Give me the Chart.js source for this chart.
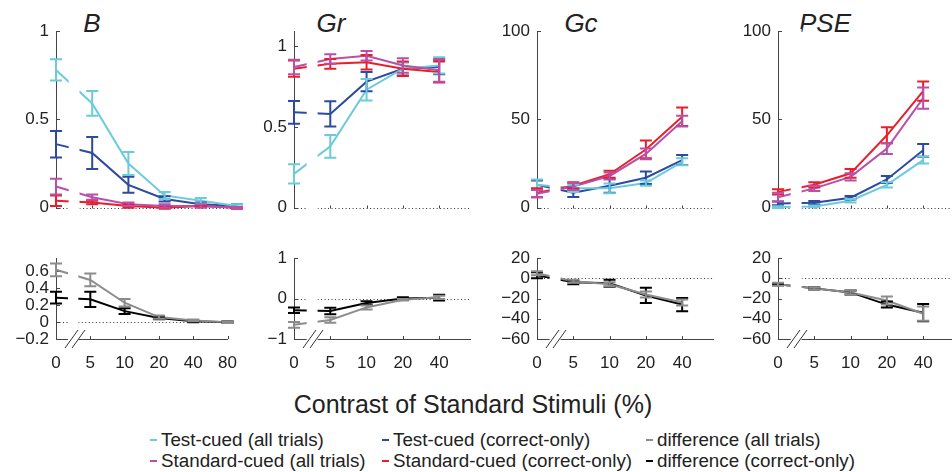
<!DOCTYPE html>
<html>
<head>
<meta charset="utf-8">
<script src="https://cdn.jsdelivr.net/npm/chart.js@4.4.1/dist/chart.umd.min.js"></script>
<style>
  html, body { margin: 0; padding: 0; background: #fff; overflow: hidden; }
  body { width: 952px; height: 472px; position: relative; font-family: "Liberation Sans", Arial, sans-serif; color: #222; }
  canvas { position: absolute; }
  .ttl { position: absolute; font-style: italic; font-size: 26px; line-height: 26px; transform: translateX(-50%); white-space: nowrap; }
  .xtitle { position: absolute; left: 473px; top: 392px; font-size: 25px; line-height: 25px; transform: translateX(-50%); white-space: nowrap; }
  .leg { position: absolute; font-size: 18.8px; line-height: 19px; white-space: nowrap; }
  .leg i { position: absolute; left: -11px; top: 9px; width: 7px; height: 2px; }
</style>
</head>
<body>
<div class="ttl" style="left:92px;top:10px">B</div>
<div class="ttl" style="left:331px;top:10px">Gr</div>
<div class="ttl" style="left:581px;top:10px">Gc</div>
<div class="ttl" style="left:825px;top:10px">PSE</div>
<div class="xtitle">Contrast of Standard Stimuli (%)</div>
<div id="legend"></div>
<script>
const contrastLabels = ['0', '5', '10', '20', '40', '80'];

// top row: B
const bTestAll = [0.78, 0.59, 0.25, 0.07, 0.04, 0.01];
const bTestAllErr = [0.06, 0.07, 0.065, 0.02, 0.015, 0.01];
const bTestCor = [0.36, 0.31, 0.13, 0.05, 0.02, 0.01];
const bTestCorErr = [0.075, 0.09, 0.045, 0.015, 0.01, 0.01];
const bStdAll = [0.12, 0.06, 0.02, 0.01, 0.01, 0.0];
const bStdAllErr = [0.045, 0.015, 0.01, 0.01, 0.01, 0.005];
const bStdCor = [0.04, 0.03, 0.01, 0.0, 0.01, 0.0];
const bStdCorErr = [0.03, 0.01, 0.01, 0.005, 0.005, 0.005];

// top row: Gr
const grTestAll = [0.21, 0.38, 0.73, 0.86, 0.88];
const grTestAllErr = [0.06, 0.07, 0.067, 0.04, 0.05];
const grTestCor = [0.59, 0.58, 0.78, 0.86, 0.87];
const grTestCorErr = [0.07, 0.078, 0.06, 0.04, 0.045];
const grStdAll = [0.87, 0.92, 0.94, 0.88, 0.85];
const grStdAllErr = [0.045, 0.03, 0.03, 0.045, 0.07];
const grStdCor = [0.86, 0.89, 0.9, 0.86, 0.84];
const grStdCorErr = [0.05, 0.03, 0.045, 0.045, 0.065];

// top row: Gc
const gcTestAll = [13, 11, 11, 14, 26];
const gcTestAllErr = [3, 2, 2.7, 1.5, 2];
const gcTestCor = [13, 8.5, 12.5, 17, 27];
const gcTestCorErr = [2.5, 2.4, 4, 3.5, 2.8];
const gcStdAll = [8, 12, 18, 30.5, 49];
const gcStdAllErr = [2, 2, 2, 3, 3];
const gcStdCor = [8.5, 12.5, 19, 33, 51.5];
const gcStdCorErr = [2.5, 2, 2, 5, 5.2];

// top row: PSE
const pseTestAll = [0.4, 0.8, 4, 13, 27];
const pseTestAllErr = [0.5, 0.5, 1, 1.5, 2];
const pseTestCor = [2.5, 2.8, 5.7, 16, 32.5];
const pseTestCorErr = [1, 1, 1, 2, 3.6];
const pseStdAll = [6, 11, 17.5, 33.5, 62];
const pseStdAllErr = [2.5, 1.5, 2, 3, 6];
const pseStdCor = [9, 13, 19.5, 41, 66];
const pseStdCorErr = [1.5, 1.5, 2.5, 4.5, 5.5];

// bottom row: differences
const bDiffAll = [0.62, 0.50, 0.23, 0.06, 0.02, 0.0];
const bDiffAllErr = [0.075, 0.075, 0.045, 0.02, 0.01, 0.01];
const bDiffCor = [0.29, 0.27, 0.13, 0.05, 0.01, 0.0];
const bDiffCorErr = [0.07, 0.09, 0.035, 0.015, 0.01, 0.01];
const grDiffAll = [-0.65, -0.53, -0.22, -0.03, 0.03];
const grDiffAllErr = [0.07, 0.07, 0.05, 0.02, 0.04];
const grDiffCor = [-0.29, -0.31, -0.11, 0.0, 0.02];
const grDiffCorErr = [0.07, 0.08, 0.04, 0.03, 0.07];
const gcDiffAll = [5, -3, -6, -16, -24];
const gcDiffAllErr = [2, 1.5, 2, 3, 3];
const gcDiffCor = [3, -4, -5, -17, -26];
const gcDiffCorErr = [3, 2, 3.5, 7.5, 6.5];
const pseDiffAll = [-6, -10, -14, -22, -35];
const pseDiffAllErr = [1.5, 1, 2, 4, 7];
const pseDiffCor = [-6, -10, -14, -26, -34];
const pseDiffCorErr = [1, 1, 2, 3, 8.5];

const colors = {
  testAll: '#6ccadb',
  testCor: '#2c4a9f',
  stdAll: '#b94fa8',
  stdCor: '#e91e2a',
  diffAll: '#8c8c8c',
  diffCor: '#000000'
};

const legendItems = [
  { label: 'Test-cued (all trials)', color: colors.testAll, x: 161, y: 430 },
  { label: 'Standard-cued (all trials)', color: colors.stdAll, x: 161, y: 451 },
  { label: 'Test-cued (correct-only)', color: colors.testCor, x: 393, y: 430 },
  { label: 'Standard-cued (correct-only)', color: colors.stdCor, x: 393, y: 451 },
  { label: 'difference (all trials)', color: colors.diffAll, x: 657, y: 430 },
  { label: 'difference (correct-only)', color: colors.diffCor, x: 657, y: 451 }
];

const STEP = 36.3;
const GAP = [0.35, 0.65];
const FONT = '"Liberation Sans", Arial, sans-serif';
Chart.defaults.font.family = FONT;

function fmt(v) {
  return v < 0 ? '\u2212' + Math.abs(v) : String(v);
}

const decoPlugin = {
  id: 'panelDeco',
  beforeDatasetsDraw(chart, args, opts) {
    const { ctx, chartArea: a, scales: { x, y } } = chart;
    const y0 = Math.round(y.getPixelForValue(0)) + 0.5;
    const g0 = x.getPixelForValue(GAP[0]);
    const g1 = x.getPixelForValue(GAP[1]);
    ctx.save();
    ctx.strokeStyle = '#333';
    ctx.lineWidth = 1;
    ctx.setLineDash([1, 2.5]);
    ctx.beginPath();
    ctx.moveTo(a.left, y0); ctx.lineTo(g0, y0);
    ctx.moveTo(g1, y0); ctx.lineTo(a.right, y0);
    ctx.stroke();
    ctx.setLineDash([]);
    ctx.strokeStyle = '#444';
    ctx.beginPath();
    y.ticks.forEach(t => {
      const py = Math.round(y.getPixelForValue(t.value)) + 0.5;
      ctx.moveTo(a.left, py); ctx.lineTo(a.left + 4, py);
    });
    const by = opts.bottom ? a.bottom : y0;
    opts.xTicks.forEach(v => {
      const px = Math.round(x.getPixelForValue(v)) + 0.5;
      ctx.moveTo(px, by); ctx.lineTo(px, by - 3);
    });
    ctx.stroke();
    ctx.restore();
  },
  afterDatasetsDraw(chart, args, opts) {
    const { ctx, chartArea: a, scales: { x, y } } = chart;
    const g0 = x.getPixelForValue(GAP[0]);
    const g1 = x.getPixelForValue(GAP[1]);
    ctx.save();
    // axis break: blank out the stretch between 0 and 5
    ctx.fillStyle = '#fff';
    ctx.fillRect(g0, a.top - 2, g1 - g0, a.bottom - a.top + 4);

    // error bars
    ctx.lineWidth = 2;
    chart.data.datasets.slice().reverse().forEach(ds => {
      ctx.strokeStyle = ds.borderColor;
      ctx.beginPath();
      ds.data.forEach((p, i) => {
        const e = ds.errors[i];
        const px = x.getPixelForValue(p.x);
        const lo = y.getPixelForValue(p.y - e);
        const hi = y.getPixelForValue(p.y + e);
        ctx.moveTo(px, lo); ctx.lineTo(px, hi);
        ctx.moveTo(px - 6, lo); ctx.lineTo(px + 6, lo);
        ctx.moveTo(px - 6, hi); ctx.lineTo(px + 6, hi);
      });
      ctx.stroke();
    });

    if (opts.bottom) {
      ctx.strokeStyle = '#333';
      ctx.lineWidth = 1;
      ctx.beginPath();
      [0, 7].forEach(k => {
        ctx.moveTo(a.left + 9 + k, a.bottom + 9);
        ctx.lineTo(a.left + 22 + k, a.bottom - 9);
      });
      ctx.stroke();
    }
    ctx.restore();
  }
};

function makePanel(p) {
  const bottom = p.row === 'bottom';
  const padL = 56, padR = 14;
  const cv = document.createElement('canvas');
  cv.width = padL + STEP * p.xMax + padR;
  cv.height = bottom ? 138 : 225;
  cv.style.left = (p.axisX - padL) + 'px';
  cv.style.top = (bottom ? 240 : 0) + 'px';
  document.body.appendChild(cv);

  const xTicks = contrastLabels.slice(0, p.nCats).map((c, i) => i);

  new Chart(cv.getContext('2d'), {
    type: 'line',
    data: {
      datasets: p.series.map(s => ({
        data: s.values.map((v, i) => ({ x: i, y: v })),
        errors: s.errs,
        borderColor: s.color,
        borderWidth: 2,
        pointRadius: 0,
        fill: false,
        tension: 0,
        clip: false
      }))
    },
    options: {
      responsive: false,
      animation: false,
      events: [],
      layout: { padding: { left: 0, right: padR, top: bottom ? 18 : 31, bottom: bottom ? 4 : 14 } },
      plugins: {
        legend: { display: false },
        tooltip: { enabled: false },
        panelDeco: { bottom: bottom, xTicks: xTicks }
      },
      scales: {
        x: {
          type: 'linear',
          min: 0,
          max: p.xMax,
          display: bottom,
          grid: { display: false, drawTicks: false },
          border: { display: true, color: '#444', width: 1 },
          ticks: {
            autoSkip: false,
            maxRotation: 0,
            padding: 14,
            color: '#222',
            font: { size: 17 },
            callback: v => contrastLabels[v]
          },
          afterBuildTicks: s => { s.ticks = xTicks.map(v => ({ value: v })); },
          afterFit: s => { s.height = bottom ? 35 : 0; }
        },
        y: {
          type: 'linear',
          min: p.yMin,
          max: p.yMax,
          grid: { display: false, drawTicks: false },
          border: { display: true, color: '#444', width: 1 },
          ticks: {
            autoSkip: false,
            padding: 7,
            color: '#222',
            font: { size: 17 },
            callback: v => fmt(v)
          },
          afterBuildTicks: s => { s.ticks = p.yTicks.map(v => ({ value: v })); },
          afterFit: s => { s.width = padL; }
        }
      }
    },
    plugins: [decoPlugin]
  });
}

function quad(testAll, testAllErr, testCor, testCorErr, stdAll, stdAllErr, stdCor, stdCorErr) {
  // first entry ends up on top
  return [
    { values: stdAll, errs: stdAllErr, color: colors.stdAll },
    { values: stdCor, errs: stdCorErr, color: colors.stdCor },
    { values: testAll, errs: testAllErr, color: colors.testAll },
    { values: testCor, errs: testCorErr, color: colors.testCor }
  ];
}
function pair(all, allErr, cor, corErr) {
  return [
    { values: all, errs: allErr, color: colors.diffAll },
    { values: cor, errs: corErr, color: colors.diffCor }
  ];
}

const panels = [
  { row: 'top', axisX: 56, xMax: 5, nCats: 6, yMin: 0, yMax: 1, yTicks: [0, 0.5, 1],
    series: quad(bTestAll, bTestAllErr, bTestCor, bTestCorErr, bStdAll, bStdAllErr, bStdCor, bStdCorErr) },
  { row: 'top', axisX: 294, xMax: 4.85, nCats: 5, yMin: 0, yMax: 1.093, yTicks: [0, 0.5, 1],
    series: quad(grTestAll, grTestAllErr, grTestCor, grTestCorErr, grStdAll, grStdAllErr, grStdCor, grStdCorErr) },
  { row: 'top', axisX: 537, xMax: 4.85, nCats: 5, yMin: 0, yMax: 100, yTicks: [0, 50, 100],
    series: quad(gcTestAll, gcTestAllErr, gcTestCor, gcTestCorErr, gcStdAll, gcStdAllErr, gcStdCor, gcStdCorErr) },
  { row: 'top', axisX: 778, xMax: 4.85, nCats: 5, yMin: 0, yMax: 100, yTicks: [0, 50, 100],
    series: quad(pseTestAll, pseTestAllErr, pseTestCor, pseTestCorErr, pseStdAll, pseStdAllErr, pseStdCor, pseStdCorErr) },
  { row: 'bottom', axisX: 56, xMax: 5, nCats: 6, yMin: -0.2, yMax: 0.76, yTicks: [-0.2, 0, 0.2, 0.4, 0.6],
    series: pair(bDiffAll, bDiffAllErr, bDiffCor, bDiffCorErr) },
  { row: 'bottom', axisX: 294, xMax: 4.85, nCats: 5, yMin: -1, yMax: 1, yTicks: [-1, 0, 1],
    series: pair(grDiffAll, grDiffAllErr, grDiffCor, grDiffCorErr) },
  { row: 'bottom', axisX: 537, xMax: 4.85, nCats: 5, yMin: -60, yMax: 20, yTicks: [-60, -40, -20, 0, 20],
    series: pair(gcDiffAll, gcDiffAllErr, gcDiffCor, gcDiffCorErr) },
  { row: 'bottom', axisX: 778, xMax: 4.85, nCats: 5, yMin: -60, yMax: 20, yTicks: [-60, -40, -20, 0, 20],
    series: pair(pseDiffAll, pseDiffAllErr, pseDiffCor, pseDiffCorErr) }
];

panels.forEach(makePanel);

const legendBox = document.getElementById('legend');
legendItems.forEach(it => {
  const d = document.createElement('div');
  d.className = 'leg';
  d.style.left = it.x + 'px';
  d.style.top = it.y + 'px';
  const mark = document.createElement('i');
  mark.style.background = it.color;
  d.appendChild(mark);
  d.appendChild(document.createTextNode(it.label));
  legendBox.appendChild(d);
});
</script>
</body>
</html>
